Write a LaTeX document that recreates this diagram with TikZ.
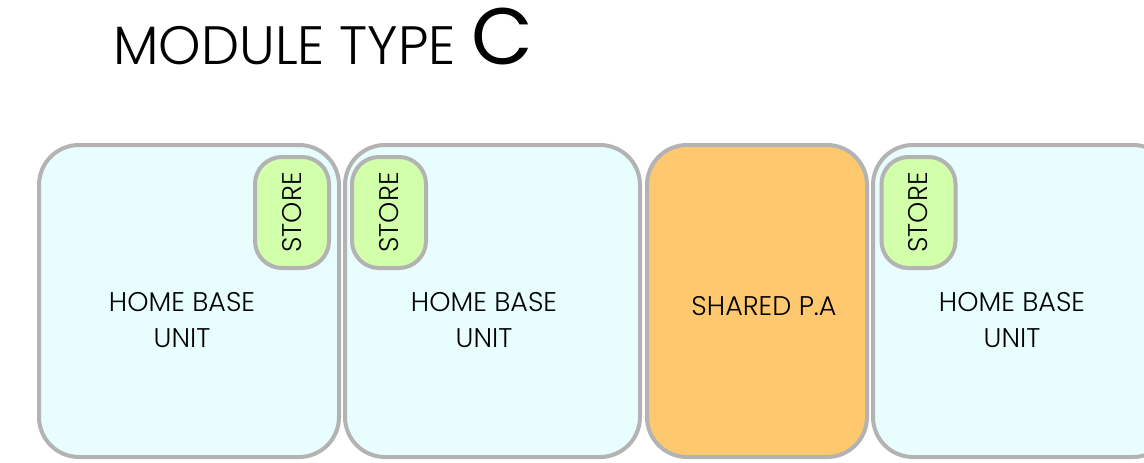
\documentclass[tikz,border=0pt]{standalone}
\usepackage{fontspec}
\setmainfont{Poppins}[UprightFont=* Light]
\newfontfamily\regularpop{Poppins}
\definecolor{edgegray}{HTML}{B3B3B3}
\definecolor{unitfill}{HTML}{E8FDFD}
\definecolor{storefill}{HTML}{D2FFAA}
\definecolor{pafill}{HTML}{FDC86E}
\tikzset{
  unitbox/.style={draw=edgegray, line width=4pt, fill=unitfill, rounded corners=40pt, inner sep=0pt},
  pabox/.style={draw=edgegray, line width=4pt, fill=pafill, rounded corners=40pt, inner sep=0pt},
  storebox/.style={draw=edgegray, line width=4pt, fill=storefill, rounded corners=27pt, inner sep=0pt,
    minimum width=74pt, minimum height=111pt},
  storetext/.style={rotate=90, font=\fontsize{27}{30}\selectfont, inner sep=0pt},
  unittext/.style={align=center, font=\fontsize{27}{36}\selectfont, inner sep=0pt},
}
\begin{document}
\begin{tikzpicture}[x=1pt,y=-1pt]
\useasboundingbox (0,0) rectangle (1144,463);
\clip (0,0) rectangle (1144,463);
% title
\node[anchor=base west, inner sep=0pt, font=\fontsize{54}{60}\selectfont] (title) at (113,64) {MODULE TYPE};
\node[anchor=base west, inner sep=0pt, font=\regularpop\fontsize{80}{90}\selectfont] (titleC) at (471,64) {C};
% units
\node[unitbox, minimum width=300pt, minimum height=312pt] (u1) at (189,301) {};
\node[unitbox, minimum width=295pt, minimum height=312pt] (u2) at (492.5,301) {};
\node[pabox, minimum width=220pt, minimum height=312pt] (pa) at (757,301) {};
\node[unitbox, minimum width=300pt, minimum height=312pt] (u4) at (1023,301) {};
% stores
\node[storebox] (s1) at (292,212.5) {};
\node[storebox] (s2) at (389,212.5) {};
\node[storebox] (s4) at (918.5,212.5) {};
\node[storetext] (s1t) at (s1.center) {STORE};
\node[storetext] (s2t) at (s2.center) {STORE};
\node[storetext] (s4t) at (s4.center) {STORE};
% labels
\node[unittext] (u1t) at (182,320) {HOME BASE\\UNIT};
\node[unittext] (u2t) at (484,320) {HOME BASE\\UNIT};
\node[unittext] (u4t) at (1012,320) {HOME BASE\\UNIT};
\node[inner sep=0pt, font=\fontsize{27}{30}\selectfont] (pat) at (764,306) {SHARED P.A};
\end{tikzpicture}
\end{document}
